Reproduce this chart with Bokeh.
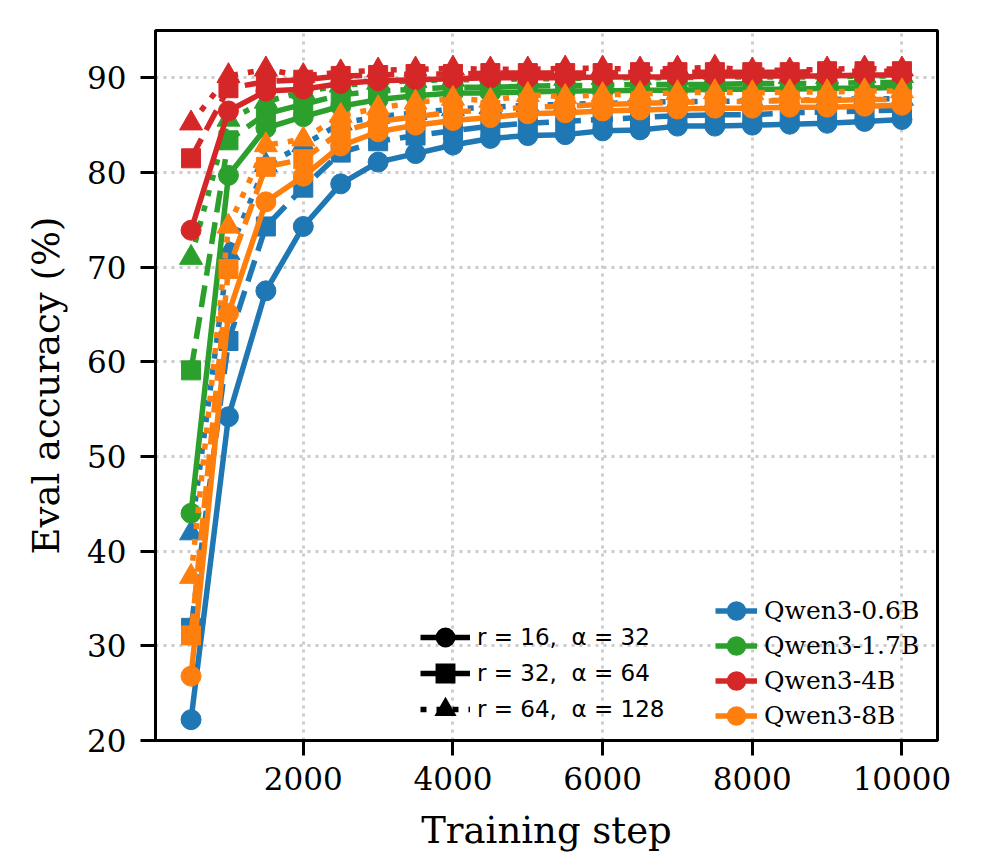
from bokeh.plotting import figure
from bokeh.models import Range1d, FixedTicker, Legend, LegendItem
from bokeh.embed import file_html
from bokeh.resources import INLINE

steps = [500, 1000, 1500, 2000, 2500, 3000, 3500, 4000, 4500, 5000,
         5500, 6000, 6500, 7000, 7500, 8000, 8500, 9000, 9500, 10000]

models = ["Qwen3-0.6B", "Qwen3-1.7B", "Qwen3-4B", "Qwen3-8B"]
configs = ["r = 16,  α = 32", "r = 32,  α = 64", "r = 64,  α = 128"]

q06_r16 = [22.2, 54.2, 67.5, 74.3, 78.8, 81.1, 82.0, 82.9, 83.6, 83.9, 84.0, 84.4, 84.5, 84.9, 84.9, 85.0, 85.1, 85.2, 85.4, 85.6]
q06_r32 = [31.9, 62.2, 74.3, 78.4, 82.1, 83.3, 83.9, 84.4, 84.9, 85.2, 85.4, 85.6, 85.8, 86.0, 86.1, 86.1, 86.3, 86.4, 86.5, 86.6]
q06_r64 = [41.9, 71.5, 80.8, 82.9, 85.2, 85.9, 86.3, 86.7, 86.9, 87.1, 87.2, 87.3, 87.4, 87.5, 87.5, 87.6, 87.6, 87.7, 87.8, 87.8]

q17_r16 = [44.0, 79.7, 84.7, 85.9, 87.0, 87.7, 88.1, 88.4, 88.4, 88.5, 88.6, 88.6, 88.7, 88.7, 88.8, 88.8, 88.8, 88.9, 88.9, 89.0]
q17_r32 = [59.1, 83.4, 86.2, 87.2, 88.2, 88.6, 88.8, 89.0, 89.0, 89.1, 89.2, 89.2, 89.3, 89.3, 89.3, 89.4, 89.4, 89.4, 89.5, 89.5]
q17_r64 = [71.0, 85.6, 87.5, 88.5, 89.2, 89.5, 89.7, 89.8, 89.8, 89.9, 89.9, 90.0, 90.0, 90.0, 90.1, 90.1, 90.1, 90.1, 90.2, 90.2]

q4_r16 = [73.9, 86.5, 88.6, 88.8, 89.4, 89.7, 89.8, 89.9, 90.0, 90.0, 90.0, 90.1, 90.1, 90.1, 90.2, 90.2, 90.2, 90.2, 90.3, 90.3]
q4_r32 = [81.5, 88.9, 89.6, 89.8, 90.2, 90.3, 90.4, 90.4, 90.5, 90.5, 90.5, 90.5, 90.6, 90.6, 90.6, 90.6, 90.6, 90.7, 90.7, 90.7]
q4_r64 = [85.2, 90.2, 90.9, 90.2, 90.6, 90.8, 90.9, 91.0, 90.9, 90.9, 91.0, 91.0, 90.9, 91.0, 91.1, 90.8, 90.8, 90.9, 91.0, 90.9]

q8_r16 = [26.8, 65.1, 76.9, 79.6, 82.8, 84.3, 85.0, 85.5, 85.8, 86.2, 86.3, 86.5, 86.6, 86.7, 86.8, 86.8, 86.9, 86.9, 87.0, 87.1]
q8_r32 = [31.1, 69.8, 80.6, 81.4, 84.3, 85.4, 85.9, 86.4, 86.6, 86.9, 87.0, 87.2, 87.3, 87.4, 87.5, 87.5, 87.6, 87.6, 87.7, 87.7]
q8_r64 = [37.3, 74.3, 82.9, 83.5, 86.0, 86.8, 87.4, 87.8, 87.6, 88.2, 88.0, 88.2, 88.3, 88.4, 88.5, 88.4, 88.5, 88.5, 88.6, 88.6]

x_ticks = [2000, 4000, 6000, 8000, 10000]
y_ticks = [20, 30, 40, 50, 60, 70, 80, 90]

series = {
    "Qwen3-0.6B": [q06_r16, q06_r32, q06_r64],
    "Qwen3-1.7B": [q17_r16, q17_r32, q17_r64],
    "Qwen3-4B": [q4_r16, q4_r32, q4_r64],
    "Qwen3-8B": [q8_r16, q8_r32, q8_r64],
}
colors = {"Qwen3-0.6B": "#1f77b4", "Qwen3-1.7B": "#2ca02c",
          "Qwen3-4B": "#d62728", "Qwen3-8B": "#ff7f0e"}
dashes = ["solid", "22 10", "6 10"]
markers = ["circle", "square", "triangle"]
msizes = [20, 19, 23]
legend_joins = ["round", "miter", "miter"]

SERIF = "DejaVu Serif"

p = figure(frame_width=782, frame_height=710,
           min_border_left=155, min_border_right=48,
           min_border_top=30, min_border_bottom=114,
           x_range=Range1d(25, 10475), y_range=Range1d(20, 95),
           output_backend="svg", toolbar_location=None,
           background_fill_color="white", border_fill_color="white")

LW = 5.5
for m in models:
    c = colors[m]
    for i, ys in enumerate(series[m]):
        p.line(steps, ys, line_color=c, line_width=LW, line_dash=dashes[i])
        p.scatter(steps, ys, marker=markers[i], size=msizes[i],
                  fill_color=c, line_color=c, line_width=1)

# hidden legend proxies (legend markers are drawn at 0.4*glyph size, so a
# thick outline brings them to the reference marker size)
cfg_items = []
for i, lab in enumerate(configs):
    r1 = p.line(steps, q06_r16, line_color="black", line_width=LW,
                line_dash=dashes[i], visible=False)
    r2 = p.scatter(steps, q06_r16, marker=markers[i], fill_color="black",
                   line_color="black", line_width=LW if i < 2 else 4.5,
                   line_join=legend_joins[i], visible=False)
    cfg_items.append(LegendItem(label=lab, renderers=[r1, r2]))

mod_items = []
for m in models:
    c = colors[m]
    r1 = p.line(steps, series[m][0], line_color=c, line_width=LW, visible=False)
    r2 = p.scatter(steps, series[m][0], marker="circle", fill_color=c,
                   line_color=c, line_width=LW, visible=False)
    mod_items.append(LegendItem(label=m, renderers=[r1, r2]))

leg1 = Legend(items=cfg_items, location=(265, 13), orientation="vertical",
              glyph_width=50, glyph_height=36, label_height=36, spacing=0,
              label_standoff=7, padding=0, margin=0,
              border_line_alpha=0, background_fill_alpha=0,
              inactive_fill_alpha=0,
              label_text_font="DejaVu Sans", label_text_font_size="23px",
              label_text_color="black")
leg2 = Legend(items=mod_items, location=(560, 7), orientation="vertical",
              glyph_width=42, glyph_height=35, label_height=35, spacing=0,
              label_standoff=7, padding=0, margin=0,
              border_line_alpha=0, background_fill_alpha=0,
              inactive_fill_alpha=0,
              label_text_font=SERIF, label_text_font_size="25px",
              label_text_color="black")
p.add_layout(leg1, "center")
p.add_layout(leg2, "center")

# axes
p.xaxis.ticker = FixedTicker(ticks=x_ticks)
p.yaxis.ticker = FixedTicker(ticks=y_ticks)
p.xaxis.axis_label = "Training step"
p.yaxis.axis_label = "Eval accuracy (%)"
for ax in (p.xaxis, p.yaxis):
    ax.axis_line_width = 3
    ax.axis_line_color = "black"
    ax.major_tick_line_width = 3
    ax.major_tick_line_color = "black"
    ax.major_tick_out = 15
    ax.major_tick_in = 0
    ax.minor_tick_line_color = None
    ax.major_label_text_font = SERIF
    ax.major_label_text_font_size = "31px"
    ax.major_label_text_color = "black"
    ax.axis_label_text_font = SERIF
    ax.axis_label_text_font_size = "37px"
    ax.axis_label_text_font_style = "normal"
    ax.axis_label_text_color = "black"
p.xaxis.major_label_standoff = 11
p.yaxis.major_label_standoff = 14
p.xaxis.axis_label_standoff = 16
p.yaxis.axis_label_standoff = 16

p.outline_line_color = "black"
p.outline_line_width = 3
p.outline_line_alpha = 1

p.grid.grid_line_color = "#cccccc"
p.grid.grid_line_width = 3
p.grid.grid_line_dash = "3 5"

open("out.html", "w").write(file_html(p, INLINE))
